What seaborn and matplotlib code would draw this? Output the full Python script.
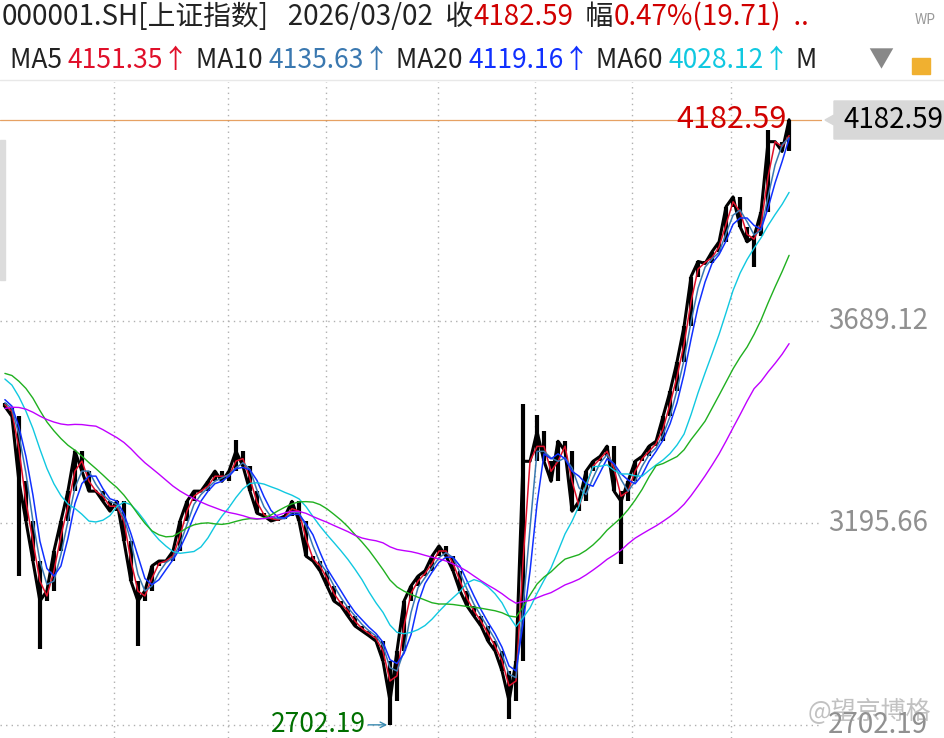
import numpy as np
import pandas as pd
import matplotlib
matplotlib.use("Agg")
import matplotlib.pyplot as plt
import seaborn as sns

sns.set_style("white")
plt.rcParams['font.family'] = ['Noto Sans CJK SC', 'DejaVu Sans']

# warm-up closes (before visible window, used for moving averages)
warmup = [3300,3320,3350,3380,3400,3370,3340,3360,3390,3420,3400,3380,3350,3330,
          3330,3350,3320,3340,3360,3330,3310,3340,3360,3350,3330,3340,3350,3330,
          3540,3560,3580,3550,3580,3610,3590,3560,3580,3600,3620,3610,3590,3570,3560,3550,3540,3520,3500,3490]
closes = [3481,3457,3298,3201,3103,3005,3030,3127,3201,3274,3372,3323,3274,3274,3249,3225,
          3249,3152,3054,3005,3030,3091,3103,3103,3127,3201,3249,3274,3274,3298,3323,3298,
          3323,3372,3335,3274,3220,3213,3201,3206,3213,3249,3201,3115,3103,3079,3042,3005,
          2993,2968,2944,2932,2920,2907,2858,2761,2883,3005,3042,3066,3079,3115,3140,3115,
          3079,3030,2993,2968,2944,2907,2883,2834,2761,2858,3347,3347,3420,3347,3298,3396,
          3372,3225,3249,3323,3347,3359,3384,3274,3249,3298,3347,3359,3384,3396,3457,3518,
          3591,3677,3799,3836,3831,3860,3884,3970,3994,3921,3884,3897,3958,4129,4129,4105,
          4182.59]
spike_idx = [2, 5, 19, 33, 55, 72, 74, 76, 88, 107, 109]
spike_val = [3066, 2888, 2895, 3400, 2702.19, 2717, 3486, 3460, 3095, 3823, 4158]

ma_names = ["MA5", "MA10", "MA20", "MA60", "MA120", "MA250"]
ma_windows = [2, 3, 4, 11, 20, 34]
ma_colors = ["#e0102a", "#3a78b0", "#1030ff", "#10c8e0", "#20b020", "#c000ff"]
ma_labels = ["4151.35", "4135.63", "4119.16", "4028.12"]

grid_vals = [3689.12, 3195.66, 2702.19]
last_close = 4182.59
low_val = 2702.19

allc = pd.Series(warmup + closes, dtype=float)
nw = len(warmup)
n = len(closes)
idx = np.arange(n)

fig = plt.figure(figsize=(9.44, 7.38), dpi=100)
W, H = 944, 738
ax = fig.add_axes([0/W, 0, 822/W, (738-82)/H])
ax.set_xlim(-0.7, 116.7)
ax.set_ylim(2670, 4275)
for s in ax.spines.values():
    s.set_visible(False)
ax.set_xticks([]); ax.set_yticks([])

for gx in [15.6, 31.9, 45.9, 61.9, 75.7, 89.6, 103.7]:
    ax.axvline(gx, color="#b0b0b0", ls=(0, (1, 3)), lw=1)
for gv in grid_vals:
    ax.axhline(gv, color="#b0b0b0", ls=(0, (1, 3)), lw=1)
ax.axhline(last_close, color="#e08a3c", lw=0.9, alpha=0.8)

c = np.array(closes)
prev = np.concatenate([[allc.iloc[nw-1]], c[:-1]])
lo = np.minimum(prev, c); hi = np.maximum(prev, c)
for i, v in zip(spike_idx, spike_val):
    lo[i] = min(lo[i], v); hi[i] = max(hi[i], v)
ax.vlines(idx, lo, hi, color="black", lw=3)
ax.plot(idx, c, color="black", lw=2.2)

for name, w, col in zip(ma_names, ma_windows, ma_colors):
    ma = allc.rolling(w).mean().iloc[nw:].to_numpy()
    df = pd.DataFrame({"x": idx, "y": ma})
    sns.lineplot(data=df, x="x", y="y", ax=ax, color=col, lw=1.1 if w < 11 else 1.0)
ax.set_xlabel(""); ax.set_ylabel("")

ax.text(n-1-0.3, last_close, "4182.59", color="#d00000", fontsize=22, ha="right", va="center")
ax.annotate("", xy=(55, low_val), xytext=(51.5, low_val),
            arrowprops=dict(arrowstyle="->", color="#3a8ab0", lw=1))
ax.text(51.5, low_val, "2702.19", color="#007000", fontsize=19, ha="right", va="center")

def ftext(x, y, s, **kw):
    return fig.text(x/W, 1-y/H, s, va="center", **kw)

yy = lambda v: 82 + (4275 - v) / (4275 - 2670) * (738-82)
for gv in grid_vals:
    ftext(828, yy(gv), f"{gv:.2f}", color="#909090", fontsize=20)
box = plt.Polygon([[834/W, 1-101/H], [944/W, 1-101/H], [944/W, 1-139/H], [834/W, 1-139/H],
                   [834/W, 1-125/H], [825/W, 1-120/H], [834/W, 1-115/H]],
                  closed=True, transform=fig.transFigure, color="#d8d8d8")
fig.patches.append(box)
ftext(843, 120, "4182.59", color="black", fontsize=20)
fig.patches.append(plt.Rectangle((0, 1-280/H), 5/W, 140/H, transform=fig.transFigure, color="#dcdcdc"))

r = fig.canvas.get_renderer()
x = 2
parts = [("000001.SH[上证指数]", "#222222"), ("   2026/03/02  收", "#222222"),
         ("4182.59", "#d00000"), ("  幅", "#222222"), ("0.47%(19.71)", "#d00000"), ("  ..", "#d00000")]
for s, col in parts:
    t = fig.text(x/W, 1-17/H, s, color=col, fontsize=20, va="center")
    x += t.get_window_extent(r).width
x = 10
parts2 = [("MA5 ", "#222222"), ("4151.35↑", ma_colors[0]), (" MA10 ", "#222222"), ("4135.63↑", ma_colors[1]),
          (" MA20 ", "#222222"), ("4119.16↑", ma_colors[2]), (" MA60 ", "#222222"), ("4028.12↑", ma_colors[3]),
          (" M", "#222222")]
for s, col in parts2:
    t = fig.text(x/W, 1-60/H, s, color=col, fontsize=19, va="center")
    x += t.get_window_extent(r).width
ftext(868, 60, "▼", color="#888888", fontsize=18)
fig.patches.append(plt.Rectangle((912/W, 1-74/H), 18/W, 16/H, transform=fig.transFigure, color="#f0b030"))
ftext(915, 20, "WP", color="#999999", fontsize=10)
fig.add_artist(plt.Line2D([0, 1], [1-80/H, 1-80/H], color="#e8e8e8", lw=1))
ftext(808, 712, "@望京博格", color="#999999", fontsize=18, alpha=0.6)

fig.savefig("out.png", dpi=100)
